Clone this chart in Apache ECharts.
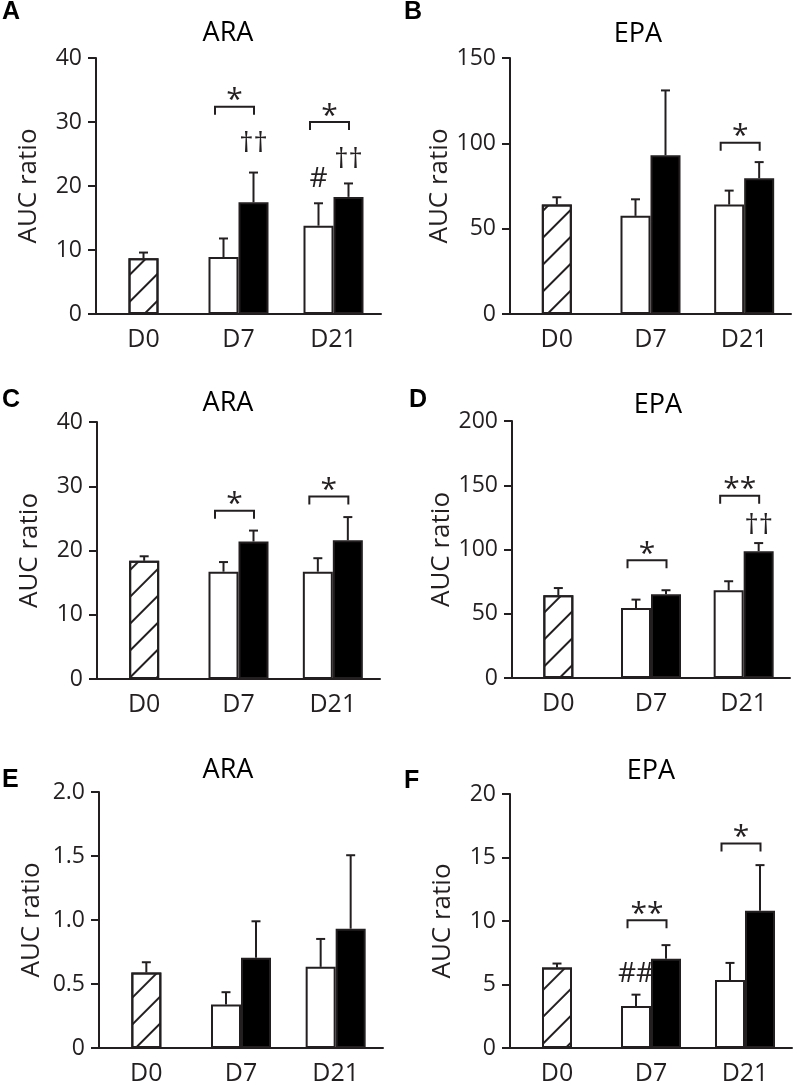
<!DOCTYPE html>
<html>
<head>
<meta charset="utf-8">
<script src="https://cdn.jsdelivr.net/npm/echarts@6/dist/echarts.min.js"></script>
<style>
  html, body { margin: 0; padding: 0; background: #fff; }
  #chart { width: 800px; height: 1086px; }
</style>
</head>
<body>
<div id="chart"></div>
<script>
// Categories and values
const categories = ['D0', 'D7', 'D21'];

// order in every array: D0 (hatched), D7 white, D7 black, D21 white, D21 black
const meanA = [8.7, 8.9, 17.45, 13.8, 18.3];
const errA  = [9.6, 11.8, 22.1, 17.3, 20.4];
const meanB = [64.1, 57.5, 93, 64.1, 79.5];
const errB  = [68.4, 67.2, 131, 72.3, 89];
const meanC = [18.4, 16.7, 21.4, 16.7, 21.6];
const errC  = [19.1, 18.2, 23.1, 18.8, 25.2];
const meanD = [64.4, 54.5, 65.2, 68.3, 98.7];
const errD  = [70, 61, 68.3, 75.3, 105];
const meanE = [0.59, 0.34, 0.706, 0.634, 0.932];
const errE  = [0.67, 0.436, 0.99, 0.852, 1.506];
const meanF = [6.34, 3.3, 7.03, 5.35, 10.8];
const errF  = [6.65, 4.2, 8.1, 6.7, 14.4];

// y axis ranges
const yMax  = [40, 150, 40, 200, 2, 20];
const yStep = [10, 50, 10, 50, 0.5, 5];

// significance brackets: [category, level, label]
const bracketsA = [[1, 32.4, '*'], [2, 30.0, '*']];
const bracketsB = [[2, 100.4, '*']];
const bracketsC = [[1, 26.2, '*'], [2, 28.4, '*']];
const bracketsD = [[1, 91.7, '*'], [2, 141.8, '**']];
const bracketsE = [];
const bracketsF = [[1, 10.05, '**'], [2, 16.1, '*']];

// symbols over bars: [category, side (-1 white, 1 black), level, label]
const marksA = [[1, 1, 26.5, '††'], [2, -1, 21.1, '#'], [2, 1, 24.05, '††']];
const marksB = [];
const marksC = [];
const marksD = [[2, 1, 118, '††']];
const marksE = [];
const marksF = [[1, -1, 5.85, '##']];

const INK = '#231f20';
const FONT = '"Open Sans", sans-serif';
const BAR_W = 30;

const panels = [
    { letter: 'A', title: 'ARA', mean: meanA, err: errA, brackets: bracketsA, marks: marksA,
      grid: { left: 96, top: 58, width: 285, height: 256 }, letterPos: [2, 12], titlePos: [228, 33] },
    { letter: 'B', title: 'EPA', mean: meanB, err: errB, brackets: bracketsB, marks: marksB,
      grid: { left: 510, top: 58, width: 281, height: 256 }, letterPos: [404, 12], titlePos: [638, 34] },
    { letter: 'C', title: 'ARA', mean: meanC, err: errC, brackets: bracketsC, marks: marksC,
      grid: { left: 97, top: 422, width: 283, height: 257 }, letterPos: [2, 400], titlePos: [228, 403] },
    { letter: 'D', title: 'EPA', mean: meanD, err: errD, brackets: bracketsD, marks: marksD,
      grid: { left: 512, top: 421, width: 278, height: 257 }, letterPos: [409, 400], titlePos: [658, 405] },
    { letter: 'E', title: 'ARA', mean: meanE, err: errE, brackets: bracketsE, marks: marksE,
      grid: { left: 99, top: 792, width: 284, height: 256 }, letterPos: [2, 780], titlePos: [228, 770] },
    { letter: 'F', title: 'EPA', mean: meanF, err: errF, brackets: bracketsF, marks: marksF,
      grid: { left: 510, top: 794, width: 282, height: 257 }, letterPos: [404, 781], titlePos: [651, 771] }
];

const line = (x1, y1, x2, y2) => ({
    type: 'line',
    shape: { x1, y1, x2, y2 },
    style: { stroke: INK, lineWidth: 2 }
});

const chart = echarts.init(document.getElementById('chart'), null, { renderer: 'canvas' });

const grids = [];
const xAxes = [];
const yAxes = [];
const series = [];
const graphics = [];

panels.forEach((p, i) => {
    grids.push(p.grid);

    // visible category axis + a hidden one so the D0 bar sits centred
    xAxes.push({
        gridIndex: i,
        type: 'category',
        data: categories,
        axisLine: { lineStyle: { color: INK, width: 2 } },
        axisTick: { show: false },
        axisLabel: { color: INK, fontSize: 25, fontFamily: FONT, margin: 13 }
    });
    xAxes.push({ gridIndex: i, type: 'category', data: categories, show: false });

    yAxes.push({
        gridIndex: i,
        type: 'value',
        min: 0,
        max: yMax[i],
        interval: yStep[i],
        name: 'AUC ratio',
        nameLocation: 'middle',
        nameGap: 54,
        nameTextStyle: { color: INK, fontSize: 26, fontFamily: FONT },
        axisLine: { show: true, lineStyle: { color: INK, width: 2 } },
        axisTick: { show: true, length: 8, lineStyle: { color: INK, width: 2 } },
        axisLabel: {
            color: INK, fontSize: 23, fontFamily: FONT, margin: 14,
            formatter: v => (yStep[i] < 1 && v !== 0) ? v.toFixed(1) : String(v)
        },
        splitLine: { show: false }
    });

    const m = p.mean;

    series.push({
        type: 'bar',
        xAxisIndex: 2 * i + 1,
        yAxisIndex: i,
        barWidth: BAR_W,
        data: [m[0], '-', '-'],
        itemStyle: {
            color: '#fff',
            borderColor: INK,
            borderWidth: 2,
            decal: {
                symbol: 'rect',
                dashArrayX: [1, 0],
                dashArrayY: [2, 17],
                symbolSize: 1,
                rotation: -Math.PI / 4,
                color: INK
            }
        }
    });
    series.push({
        type: 'bar',
        xAxisIndex: 2 * i,
        yAxisIndex: i,
        barWidth: BAR_W,
        barGap: '0%',
        data: ['-', m[1], m[3]],
        itemStyle: { color: '#fff', borderColor: INK, borderWidth: 2 }
    });
    series.push({
        type: 'bar',
        xAxisIndex: 2 * i,
        yAxisIndex: i,
        barWidth: BAR_W,
        barGap: '0%',
        data: ['-', m[2], m[4]],
        itemStyle: { color: '#000', borderColor: INK, borderWidth: 2 }
    });

    // error bars (upper only)
    const e = p.err;
    series.push({
        type: 'custom',
        xAxisIndex: 2 * i,
        yAxisIndex: i,
        clip: false,
        encode: { x: 0, y: [2, 3] },
        data: [
            [0, 0, m[0], e[0]],
            [1, -1, m[1], e[1]],
            [1, 1, m[2], e[2]],
            [2, -1, m[3], e[3]],
            [2, 1, m[4], e[4]]
        ],
        renderItem: (params, api) => {
            const base = api.coord([api.value(0), api.value(2)]);
            const tip = api.coord([api.value(0), api.value(3)]);
            const x = base[0] + api.value(1) * BAR_W / 2;
            return {
                type: 'group',
                children: [line(x, base[1], x, tip[1]), line(x - 4.5, tip[1], x + 4.5, tip[1])]
            };
        },
        z: 3
    });

    // significance brackets
    if (p.brackets.length) {
        series.push({
            type: 'custom',
            xAxisIndex: 2 * i,
            yAxisIndex: i,
            clip: false,
            encode: { x: 0, y: 1 },
            data: p.brackets.map(b => [b[0], b[1]]),
            renderItem: (params, api) => {
                const c = api.coord([api.value(0), api.value(1)]);
                const x0 = c[0] - 23.5, x1 = c[0] + 15.5, y = c[1];
                return {
                    type: 'group',
                    children: [
                        {
                            type: 'polyline',
                            shape: { points: [[x0, y + 8], [x0, y], [x1, y], [x1, y + 8]] },
                            style: { stroke: INK, lineWidth: 2, fill: null }
                        },
                        {
                            type: 'text',
                            x: (x0 + x1) / 2,
                            y: y - 6,
                            style: {
                                text: p.brackets[params.dataIndex][2],
                                fill: INK,
                                font: '30px ' + FONT,
                                align: 'center',
                                verticalAlign: 'middle'
                            }
                        }
                    ]
                };
            }
        });
    }

    // daggers and hashes
    if (p.marks.length) {
        series.push({
            type: 'custom',
            xAxisIndex: 2 * i,
            yAxisIndex: i,
            clip: false,
            encode: { x: 0, y: 2 },
            data: p.marks.map(k => [k[0], k[1], k[2]]),
            renderItem: (params, api) => {
                const c = api.coord([api.value(0), api.value(2)]);
                return {
                    type: 'text',
                    x: c[0] + api.value(1) * BAR_W / 2,
                    y: c[1],
                    style: {
                        text: p.marks[params.dataIndex][3],
                        fill: INK,
                        font: '28px ' + FONT,
                        align: 'center',
                        verticalAlign: 'middle'
                    }
                };
            }
        });
    }

    graphics.push({
        type: 'text',
        x: p.letterPos[0],
        y: p.letterPos[1],
        style: { text: p.letter, fill: '#000', font: 'bold 25px "Liberation Sans", Arial, sans-serif', verticalAlign: 'middle' }
    });
    graphics.push({
        type: 'text',
        x: p.titlePos[0],
        y: p.titlePos[1],
        style: { text: p.title, fill: '#000', font: '27px ' + FONT, align: 'center', verticalAlign: 'middle' }
    });
});

chart.setOption({
    animation: false,
    backgroundColor: '#fff',
    grid: grids,
    xAxis: xAxes,
    yAxis: yAxes,
    series: series,
    graphic: graphics
});
</script>
</body>
</html>
